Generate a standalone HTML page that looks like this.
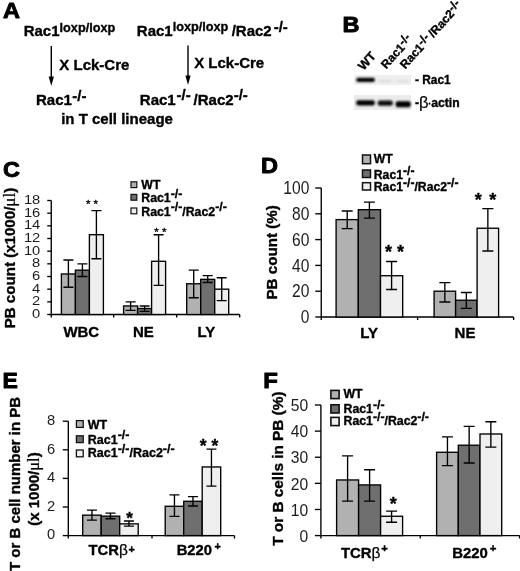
<!DOCTYPE html>
<html><head><meta charset="utf-8"><title>Figure</title>
<style>html,body{margin:0;padding:0;background:#fff}svg{display:block;will-change:transform;transform:translateZ(0)}</style></head><body>
<svg width="520" height="571" viewBox="0 0 520 571" font-family="Liberation Sans, sans-serif">
<defs><filter id="bl" x="-20%" y="-100%" width="140%" height="300%"><feGaussianBlur stdDeviation="1.1 0.9"/></filter></defs>
<rect width="520" height="571" fill="#fff"/>
<text transform="translate(3.0,18.3) scale(1.06,1)" font-size="22.2" font-weight="bold" text-anchor="start" fill="#000" stroke="#000" stroke-width="0.9" stroke-linejoin="round" >A</text>
<text transform="translate(342.6,32.4) scale(1.06,1)" font-size="22.2" font-weight="bold" text-anchor="start" fill="#000" stroke="#000" stroke-width="0.9" stroke-linejoin="round" >B</text>
<text transform="translate(2.9,176.8) scale(1.06,1)" font-size="22.2" font-weight="bold" text-anchor="start" fill="#000" stroke="#000" stroke-width="0.9" stroke-linejoin="round" >C</text>
<text transform="translate(260.9,173) scale(1.06,1)" font-size="22.2" font-weight="bold" text-anchor="start" fill="#000" stroke="#000" stroke-width="0.9" stroke-linejoin="round" >D</text>
<text transform="translate(2.5,387.8) scale(1.04,1)" font-size="22.2" font-weight="bold" text-anchor="start" fill="#000" stroke="#000" stroke-width="0.9" stroke-linejoin="round" >E</text>
<text transform="translate(263.3,387.8) scale(1.08,1)" font-size="22.2" font-weight="bold" text-anchor="start" fill="#000" stroke="#000" stroke-width="0.9" stroke-linejoin="round" >F</text>
<text x="23.7" y="35.5" font-size="15" font-weight="bold" text-anchor="start" fill="#000" stroke="#000" stroke-width="0.35" stroke-linejoin="round" ><tspan dy="0" font-size="15">Rac1</tspan><tspan dy="-3.6" font-size="12.7">loxp/loxp</tspan></text>
<text x="136.8" y="35.5" font-size="15" font-weight="bold" text-anchor="start" fill="#000" stroke="#000" stroke-width="0.35" stroke-linejoin="round" ><tspan dy="0" font-size="15">Rac1</tspan><tspan dy="-4.4" font-size="12.7">loxp/loxp</tspan></text>
<text x="231.7" y="35.5" font-size="15" font-weight="bold" text-anchor="start" fill="#000" stroke="#000" stroke-width="0.35" stroke-linejoin="round" >/Rac2</text>
<text x="273.7" y="32.2" font-size="15" font-weight="bold" text-anchor="start" fill="#000" stroke="#000" stroke-width="0.35" stroke-linejoin="round" >-/-</text>
<path d="M51.3 46V81" stroke="#000" stroke-width="1.4"/>
<path d="M48.699999999999996 76.5L51.3 86L53.9 76.5Z" fill="#000"/>
<path d="M188 45.5V80" stroke="#000" stroke-width="1.4"/>
<path d="M185.4 75.5L188 85L190.6 75.5Z" fill="#000"/>
<text x="59.3" y="69.6" font-size="15" font-weight="bold" text-anchor="start" fill="#000" stroke="#000" stroke-width="0.35" stroke-linejoin="round" >X Lck-Cre</text>
<text x="194.2" y="68.2" font-size="15" font-weight="bold" text-anchor="start" fill="#000" stroke="#000" stroke-width="0.35" stroke-linejoin="round" >X Lck-Cre</text>
<text x="36" y="104.5" font-size="15" font-weight="bold" text-anchor="start" fill="#000" stroke="#000" stroke-width="0.35" stroke-linejoin="round" >Rac1</text>
<text x="72.3" y="100.7" font-size="15" font-weight="bold" text-anchor="start" fill="#000" stroke="#000" stroke-width="0.35" stroke-linejoin="round" >-/-</text>
<text x="139.8" y="104.5" font-size="15" font-weight="bold" text-anchor="start" fill="#000" stroke="#000" stroke-width="0.35" stroke-linejoin="round" >Rac1</text>
<text x="176.5" y="99.8" font-size="15" font-weight="bold" text-anchor="start" fill="#000" stroke="#000" stroke-width="0.35" stroke-linejoin="round" >-/-</text>
<text x="193.6" y="104.5" font-size="15" font-weight="bold" text-anchor="start" fill="#000" stroke="#000" stroke-width="0.35" stroke-linejoin="round" >/Rac2</text>
<text x="233.7" y="99.8" font-size="15" font-weight="bold" text-anchor="start" fill="#000" stroke="#000" stroke-width="0.35" stroke-linejoin="round" >-/-</text>
<text x="61.2" y="123.5" font-size="15" font-weight="bold" text-anchor="start" fill="#000" stroke="#000" stroke-width="0.35" stroke-linejoin="round" >in T cell lineage</text>
<g transform="translate(363.5,71) rotate(-48)">
<text x="0" y="0" font-size="12.5" font-weight="bold" text-anchor="start" fill="#000" stroke="#000" stroke-width="0.35" stroke-linejoin="round" >WT</text>
</g>
<g transform="translate(386.3,69.5) rotate(-48)">
<text x="0" y="0" font-size="12" font-weight="bold" text-anchor="start" fill="#000" stroke="#000" stroke-width="0.35" stroke-linejoin="round" ><tspan dy="0" font-size="12">Rac1</tspan><tspan dy="-3" font-size="12">-/-</tspan></text>
</g>
<g transform="translate(405.3,69.5) rotate(-48)">
<text x="0" y="0" font-size="12" font-weight="bold" text-anchor="start" fill="#000" stroke="#000" stroke-width="0.35" stroke-linejoin="round" ><tspan dy="0" font-size="12">Rac1</tspan><tspan dy="-3" font-size="12">-/-</tspan><tspan dy="3" font-size="12"><tspan dx="2.3">/Rac2</tspan></tspan><tspan dy="-3" font-size="12">-/-</tspan></text>
</g>
<rect x="354" y="75" width="57" height="10" fill="#efefef"/>
<rect x="354" y="95" width="57" height="15" fill="#ebebeb"/>
<g filter="url(#bl)">
<rect x="356.3" y="77.8" width="18.5" height="4.2" rx="1.8" fill="#000"/>
<rect x="379" y="80.5" width="12" height="1.5" fill="#d2d2d2"/>
<rect x="397" y="80.5" width="12" height="1.5" fill="#d4d4d4"/>
<rect x="356.3" y="100.2" width="18.5" height="5.4" rx="2" fill="#000"/>
<rect x="377.7" y="100.6" width="15" height="5.2" rx="2" fill="#0a0a0a"/>
<rect x="395.7" y="101.2" width="15" height="6" rx="2" fill="#000"/>
</g>
<text x="415" y="83.8" font-size="11.9" font-weight="bold" text-anchor="start" fill="#000" stroke="#000" stroke-width="0.35" stroke-linejoin="round" >- Rac1</text>
<text x="415" y="106.5" font-size="12.2" font-weight="bold" text-anchor="start" fill="#000" stroke="#000" stroke-width="0.35" stroke-linejoin="round" >-<tspan font-weight="normal" font-size="16.5" dy="1.6" stroke-width="0.2">β</tspan><tspan dy="-1.6" font-size="9" dx="-0.3">·</tspan><tspan>actin</tspan></text>
<path d="M51.25 200.5V314.5H239.7" stroke="#000" stroke-width="1.35" fill="none"/>
<path d="M47.25 314.5H51.25" stroke="#000" stroke-width="1.35"/>
<text transform="translate(40.3,318.0) scale(1.1,1)" font-size="13.4" font-weight="normal" text-anchor="end" fill="#1c1c1c"  >0</text>
<path d="M47.25 301.83H51.25" stroke="#000" stroke-width="1.35"/>
<text transform="translate(40.3,305.33) scale(1.1,1)" font-size="13.4" font-weight="normal" text-anchor="end" fill="#1c1c1c"  >2</text>
<path d="M47.25 289.17H51.25" stroke="#000" stroke-width="1.35"/>
<text transform="translate(40.3,292.66) scale(1.1,1)" font-size="13.4" font-weight="normal" text-anchor="end" fill="#1c1c1c"  >4</text>
<path d="M47.25 276.5H51.25" stroke="#000" stroke-width="1.35"/>
<text transform="translate(40.3,280.0) scale(1.1,1)" font-size="13.4" font-weight="normal" text-anchor="end" fill="#1c1c1c"  >6</text>
<path d="M47.25 263.83H51.25" stroke="#000" stroke-width="1.35"/>
<text transform="translate(40.3,267.33) scale(1.1,1)" font-size="13.4" font-weight="normal" text-anchor="end" fill="#1c1c1c"  >8</text>
<path d="M47.25 251.17H51.25" stroke="#000" stroke-width="1.35"/>
<text transform="translate(40.3,254.66) scale(1.1,1)" font-size="13.4" font-weight="normal" text-anchor="end" fill="#1c1c1c"  >10</text>
<path d="M47.25 238.5H51.25" stroke="#000" stroke-width="1.35"/>
<text transform="translate(40.3,242.0) scale(1.1,1)" font-size="13.4" font-weight="normal" text-anchor="end" fill="#1c1c1c"  >12</text>
<path d="M47.25 225.83H51.25" stroke="#000" stroke-width="1.35"/>
<text transform="translate(40.3,229.33) scale(1.1,1)" font-size="13.4" font-weight="normal" text-anchor="end" fill="#1c1c1c"  >14</text>
<path d="M47.25 213.17H51.25" stroke="#000" stroke-width="1.35"/>
<text transform="translate(40.3,216.66) scale(1.1,1)" font-size="13.4" font-weight="normal" text-anchor="end" fill="#1c1c1c"  >16</text>
<path d="M47.25 200.5H51.25" stroke="#000" stroke-width="1.35"/>
<text transform="translate(40.3,204.0) scale(1.1,1)" font-size="13.4" font-weight="normal" text-anchor="end" fill="#1c1c1c"  >18</text>
<path d="M51.25 314.5V317.5" stroke="#000" stroke-width="1.35"/>
<path d="M113.7 314.5V317.5" stroke="#000" stroke-width="1.35"/>
<path d="M176.7 314.5V317.5" stroke="#000" stroke-width="1.35"/>
<path d="M239.7 314.5V317.5" stroke="#000" stroke-width="1.35"/>
<g transform="translate(15.2,328.3) rotate(-90)">
<text x="0" y="0" font-size="15.1" font-weight="bold" text-anchor="start" fill="#000" stroke="#000" stroke-width="0.35" stroke-linejoin="round" >PB count (x1000/<tspan font-family="Liberation Serif, serif" font-weight="normal" stroke-width="0.2" font-size="17">μl</tspan>)</text>
</g>
<rect x="61.4" y="273.97" width="14" height="40.53" fill="#b1b1b1" stroke="#000" stroke-width="1.35"/>
<rect x="75.4" y="270.17" width="14" height="44.33" fill="#6f6f6f" stroke="#000" stroke-width="1.35"/>
<rect x="89.4" y="234.7" width="14" height="79.8" fill="#efefef" stroke="#000" stroke-width="1.35"/>
<path d="M68.4 260.03V287.27M63.400000000000006 260.03H73.4M63.400000000000006 287.27H73.4" stroke="#000" stroke-width="1.35" fill="none"/>
<path d="M82.4 263.83V276.5M77.4 263.83H87.4M77.4 276.5H87.4" stroke="#000" stroke-width="1.35" fill="none"/>
<path d="M96.4 210.63V258.77M91.4 210.63H101.4M91.4 258.77H101.4" stroke="#000" stroke-width="1.35" fill="none"/>
<rect x="123.6" y="305.95" width="14" height="8.55" fill="#b1b1b1" stroke="#000" stroke-width="1.35"/>
<rect x="137.6" y="308.48" width="14" height="6.02" fill="#6f6f6f" stroke="#000" stroke-width="1.35"/>
<rect x="151.6" y="261.3" width="14" height="53.2" fill="#efefef" stroke="#000" stroke-width="1.35"/>
<path d="M130.6 301.83V310.38M125.6 301.83H135.6M125.6 310.38H135.6" stroke="#000" stroke-width="1.35" fill="none"/>
<path d="M144.6 305.95V311.33M139.6 305.95H149.6M139.6 311.33H149.6" stroke="#000" stroke-width="1.35" fill="none"/>
<path d="M158.6 234.7V285.37M153.6 234.7H163.6M153.6 285.37H163.6" stroke="#000" stroke-width="1.35" fill="none"/>
<rect x="186.7" y="283.78" width="14" height="30.72" fill="#b1b1b1" stroke="#000" stroke-width="1.35"/>
<rect x="200.7" y="279.35" width="14" height="35.15" fill="#6f6f6f" stroke="#000" stroke-width="1.35"/>
<rect x="214.7" y="289.17" width="14" height="25.33" fill="#efefef" stroke="#000" stroke-width="1.35"/>
<path d="M193.7 270.17V297.72M188.7 270.17H198.7M188.7 297.72H198.7" stroke="#000" stroke-width="1.35" fill="none"/>
<path d="M207.7 275.55V282.52M202.7 275.55H212.7M202.7 282.52H212.7" stroke="#000" stroke-width="1.35" fill="none"/>
<path d="M221.7 277.77V300.57M216.7 277.77H226.7M216.7 300.57H226.7" stroke="#000" stroke-width="1.35" fill="none"/>
<text x="92" y="207.5" font-size="11.5" font-weight="normal" text-anchor="middle" fill="#000" stroke="#000" stroke-width="0.35" stroke-linejoin="round" letter-spacing="0">* *</text>
<text x="160.3" y="235.5" font-size="11.5" font-weight="normal" text-anchor="middle" fill="#000" stroke="#000" stroke-width="0.35" stroke-linejoin="round" letter-spacing="0">* *</text>
<text x="81.3" y="336.5" font-size="15" font-weight="bold" text-anchor="middle" fill="#000" stroke="#000" stroke-width="0.35" stroke-linejoin="round" >WBC</text>
<text x="143.3" y="336.6" font-size="15" font-weight="bold" text-anchor="middle" fill="#000" stroke="#000" stroke-width="0.35" stroke-linejoin="round" >NE</text>
<text x="206.3" y="336.6" font-size="15" font-weight="bold" text-anchor="middle" fill="#000" stroke="#000" stroke-width="0.35" stroke-linejoin="round" >LY</text>
<rect x="131" y="181.8" width="5.8" height="5.8" fill="#b1b1b1" stroke="#111" stroke-width="1.2"/>
<text x="141.3" y="188.7" font-size="12.3" font-weight="bold" text-anchor="start" fill="#000" stroke="#000" stroke-width="0.35" stroke-linejoin="round" ><tspan dy="0" font-size="12.3">WT</tspan></text>
<rect x="131" y="194.4" width="5.8" height="5.8" fill="#6f6f6f" stroke="#111" stroke-width="1.2"/>
<text x="141.3" y="201.7" font-size="12.3" font-weight="bold" text-anchor="start" fill="#000" stroke="#000" stroke-width="0.35" stroke-linejoin="round" ><tspan dy="0" font-size="12.3">Rac1</tspan><tspan dy="-4.1" font-size="12.3">-/-</tspan></text>
<rect x="131" y="208" width="5.8" height="5.8" fill="#efefef" stroke="#111" stroke-width="1.2"/>
<text x="141.3" y="215.5" font-size="12.3" font-weight="bold" text-anchor="start" fill="#000" stroke="#000" stroke-width="0.35" stroke-linejoin="round" ><tspan dy="0" font-size="12.3">Rac1</tspan><tspan dy="-4.1" font-size="12.3">-/-</tspan><tspan dy="4.1" font-size="12.3">/Rac2</tspan><tspan dy="-4.1" font-size="12.3">-/-</tspan></text>
<path d="M321.25 188V317.0H513.6" stroke="#000" stroke-width="1.35" fill="none"/>
<path d="M315.25 317.0H321.25" stroke="#000" stroke-width="1.35"/>
<text transform="translate(309.3,323.26) scale(0.89,1)" font-size="17.5" font-weight="normal" text-anchor="end" fill="#1c1c1c"  >0</text>
<path d="M315.25 291.2H321.25" stroke="#000" stroke-width="1.35"/>
<text transform="translate(309.3,297.46) scale(0.89,1)" font-size="17.5" font-weight="normal" text-anchor="end" fill="#1c1c1c"  >20</text>
<path d="M315.25 265.4H321.25" stroke="#000" stroke-width="1.35"/>
<text transform="translate(309.3,271.66) scale(0.89,1)" font-size="17.5" font-weight="normal" text-anchor="end" fill="#1c1c1c"  >40</text>
<path d="M315.25 239.6H321.25" stroke="#000" stroke-width="1.35"/>
<text transform="translate(309.3,245.86) scale(0.89,1)" font-size="17.5" font-weight="normal" text-anchor="end" fill="#1c1c1c"  >60</text>
<path d="M315.25 213.8H321.25" stroke="#000" stroke-width="1.35"/>
<text transform="translate(309.3,220.06) scale(0.89,1)" font-size="17.5" font-weight="normal" text-anchor="end" fill="#1c1c1c"  >80</text>
<path d="M315.25 188.0H321.25" stroke="#000" stroke-width="1.35"/>
<text transform="translate(309.3,194.26) scale(0.89,1)" font-size="17.5" font-weight="normal" text-anchor="end" fill="#1c1c1c"  >100</text>
<path d="M321.25 317.0V320.0" stroke="#000" stroke-width="1.35"/>
<path d="M417.6 317.0V320.0" stroke="#000" stroke-width="1.35"/>
<path d="M513.6 317.0V320.0" stroke="#000" stroke-width="1.35"/>
<g transform="translate(276.7,299.6) rotate(-90)">
<text x="0" y="0" font-size="15.2" font-weight="bold" text-anchor="start" fill="#000" stroke="#000" stroke-width="0.35" stroke-linejoin="round" >PB count (%)</text>
</g>
<rect x="336.1" y="219.61" width="22.2" height="97.39" fill="#b1b1b1" stroke="#000" stroke-width="1.35"/>
<rect x="358.3" y="209.67" width="22.2" height="107.33" fill="#6f6f6f" stroke="#000" stroke-width="1.35"/>
<rect x="380.5" y="275.72" width="22.2" height="41.28" fill="#efefef" stroke="#000" stroke-width="1.35"/>
<path d="M347.2 210.96V228.63M341.7 210.96H352.7M341.7 228.63H352.7" stroke="#000" stroke-width="1.35" fill="none"/>
<path d="M369.4 202.19V218.19M363.9 202.19H374.9M363.9 218.19H374.9" stroke="#000" stroke-width="1.35" fill="none"/>
<path d="M391.6 261.53V289.52M386.1 261.53H397.1M386.1 289.52H397.1" stroke="#000" stroke-width="1.35" fill="none"/>
<rect x="434.1" y="291.2" width="21.5" height="25.8" fill="#b1b1b1" stroke="#000" stroke-width="1.35"/>
<rect x="455.6" y="300.23" width="21.5" height="16.77" fill="#6f6f6f" stroke="#000" stroke-width="1.35"/>
<rect x="477.1" y="228.25" width="21.5" height="88.75" fill="#efefef" stroke="#000" stroke-width="1.35"/>
<path d="M444.85 282.56V302.04M439.35 282.56H450.35M439.35 302.04H450.35" stroke="#000" stroke-width="1.35" fill="none"/>
<path d="M466.35 292.49V308.36M460.85 292.49H471.85M460.85 308.36H471.85" stroke="#000" stroke-width="1.35" fill="none"/>
<path d="M487.85 208.64V250.95M482.35 208.64H493.35M482.35 250.95H493.35" stroke="#000" stroke-width="1.35" fill="none"/>
<text x="394.5" y="257.5" font-size="18" font-weight="bold" text-anchor="middle" fill="#000" stroke="#000" stroke-width="0.35" stroke-linejoin="round" >* *</text>
<text x="478.2" y="206" font-size="18" font-weight="bold" text-anchor="middle" fill="#000" stroke="#000" stroke-width="0.35" stroke-linejoin="round" >*</text>
<text x="492.8" y="206" font-size="18" font-weight="bold" text-anchor="middle" fill="#000" stroke="#000" stroke-width="0.35" stroke-linejoin="round" >*</text>
<text x="369.2" y="338" font-size="15" font-weight="bold" text-anchor="middle" fill="#000" stroke="#000" stroke-width="0.35" stroke-linejoin="round" >LY</text>
<text x="465" y="338" font-size="15" font-weight="bold" text-anchor="middle" fill="#000" stroke="#000" stroke-width="0.35" stroke-linejoin="round" >NE</text>
<rect x="362.5" y="155" width="8" height="8.7" fill="#b1b1b1" stroke="#111" stroke-width="1.5"/>
<text x="373.8" y="163.1" font-size="12.2" font-weight="bold" text-anchor="start" fill="#000" stroke="#000" stroke-width="0.35" stroke-linejoin="round" ><tspan dy="0" font-size="12.2">WT</tspan></text>
<rect x="362.5" y="170" width="8" height="7.5" fill="#6f6f6f" stroke="#111" stroke-width="1.5"/>
<text x="373.8" y="178.9" font-size="12.2" font-weight="bold" text-anchor="start" fill="#000" stroke="#000" stroke-width="0.35" stroke-linejoin="round" ><tspan dy="0" font-size="12.2">Rac1</tspan><tspan dy="-4.1" font-size="12.2">-/-</tspan></text>
<rect x="362.5" y="182.7" width="8" height="7.3" fill="#efefef" stroke="#111" stroke-width="1.5"/>
<text x="373.8" y="191" font-size="12.2" font-weight="bold" text-anchor="start" fill="#000" stroke="#000" stroke-width="0.35" stroke-linejoin="round" ><tspan dy="0" font-size="12.2">Rac1</tspan><tspan dy="-4.1" font-size="12.2">-/-</tspan><tspan dy="4.1" font-size="12.2">/Rac2</tspan><tspan dy="-4.1" font-size="12.2">-/-</tspan></text>
<path d="M68.3 421.2V535.6H234.5" stroke="#000" stroke-width="1.35" fill="none"/>
<path d="M62.8 535.6H68.3" stroke="#000" stroke-width="1.35"/>
<text transform="translate(55.2,539.37) scale(0.98,1)" font-size="15" font-weight="normal" text-anchor="end" fill="#1c1c1c"  >0</text>
<path d="M62.8 507.0H68.3" stroke="#000" stroke-width="1.35"/>
<text transform="translate(55.2,510.77) scale(0.98,1)" font-size="15" font-weight="normal" text-anchor="end" fill="#1c1c1c"  >2</text>
<path d="M62.8 478.4H68.3" stroke="#000" stroke-width="1.35"/>
<text transform="translate(55.2,482.17) scale(0.98,1)" font-size="15" font-weight="normal" text-anchor="end" fill="#1c1c1c"  >4</text>
<path d="M62.8 449.8H68.3" stroke="#000" stroke-width="1.35"/>
<text transform="translate(55.2,453.57) scale(0.98,1)" font-size="15" font-weight="normal" text-anchor="end" fill="#1c1c1c"  >6</text>
<path d="M62.8 421.2H68.3" stroke="#000" stroke-width="1.35"/>
<text transform="translate(55.2,424.97) scale(0.98,1)" font-size="15" font-weight="normal" text-anchor="end" fill="#1c1c1c"  >8</text>
<path d="M68.3 535.6V538.6" stroke="#000" stroke-width="1.35"/>
<path d="M152 535.6V538.6" stroke="#000" stroke-width="1.35"/>
<path d="M234.5 535.6V538.6" stroke="#000" stroke-width="1.35"/>
<g transform="translate(19.7,571) rotate(-90)">
<text x="0" y="0" font-size="15" font-weight="bold" text-anchor="start" fill="#000" stroke="#000" stroke-width="0.35" stroke-linejoin="round" >T or B cell number in PB</text>
</g>
<g transform="translate(38.7,525.8) rotate(-90)">
<text x="0" y="0" font-size="15" font-weight="bold" text-anchor="start" fill="#000" stroke="#000" stroke-width="0.35" stroke-linejoin="round" >(x 1000/<tspan font-family="Liberation Serif, serif" font-weight="normal" stroke-width="0.2" font-size="16.5">μl</tspan>)</text>
</g>
<rect x="82.7" y="515.15" width="18.5" height="20.45" fill="#b1b1b1" stroke="#000" stroke-width="1.35"/>
<rect x="101.2" y="516.15" width="18.5" height="19.45" fill="#6f6f6f" stroke="#000" stroke-width="1.35"/>
<rect x="119.7" y="523.87" width="18.5" height="11.73" fill="#efefef" stroke="#000" stroke-width="1.35"/>
<path d="M91.95 510.15V520.16M86.95 510.15H96.95M86.95 520.16H96.95" stroke="#000" stroke-width="1.35" fill="none"/>
<path d="M110.45 513.15V518.73M105.45 513.15H115.45M105.45 518.73H115.45" stroke="#000" stroke-width="1.35" fill="none"/>
<path d="M128.95 521.01V526.16M123.94999999999999 521.01H133.95M123.94999999999999 526.16H133.95" stroke="#000" stroke-width="1.35" fill="none"/>
<rect x="165.2" y="506.29" width="18.5" height="29.31" fill="#b1b1b1" stroke="#000" stroke-width="1.35"/>
<rect x="183.7" y="501.28" width="18.5" height="34.32" fill="#6f6f6f" stroke="#000" stroke-width="1.35"/>
<rect x="202.2" y="466.96" width="18.5" height="68.64" fill="#efefef" stroke="#000" stroke-width="1.35"/>
<path d="M174.45 494.85V516.44M169.45 494.85H179.45M169.45 516.44H179.45" stroke="#000" stroke-width="1.35" fill="none"/>
<path d="M192.95 496.56V506.0M187.95 496.56H197.95M187.95 506.0H197.95" stroke="#000" stroke-width="1.35" fill="none"/>
<path d="M211.45 449.08V486.12M206.45 449.08H216.45M206.45 486.12H216.45" stroke="#000" stroke-width="1.35" fill="none"/>
<text x="129.5" y="524.3" font-size="17" font-weight="bold" text-anchor="middle" fill="#000" stroke="#000" stroke-width="0.35" stroke-linejoin="round" >*</text>
<text x="209" y="451.5" font-size="17.5" font-weight="bold" text-anchor="middle" fill="#000" stroke="#000" stroke-width="0.35" stroke-linejoin="round" >* *</text>
<text x="88.5" y="555.4" font-size="14.8" font-weight="bold" text-anchor="start" fill="#000" stroke="#000" stroke-width="0.35" stroke-linejoin="round" >TCR<tspan font-weight="normal" font-size="15.5" stroke-width="0.25">β</tspan><tspan dy="-2.6" dx="0.6" font-size="10.8">+</tspan></text>
<text x="176.7" y="555.3" font-size="14.8" font-weight="bold" text-anchor="start" fill="#000" stroke="#000" stroke-width="0.35" stroke-linejoin="round" >B220<tspan dy="-5.4" dx="2.4" font-size="10.8">+</tspan></text>
<rect x="76.4" y="420.6" width="6.8" height="6.8" fill="#b1b1b1" stroke="#111" stroke-width="1.3"/>
<text x="87.8" y="428.7" font-size="12.5" font-weight="bold" text-anchor="start" fill="#000" stroke="#000" stroke-width="0.35" stroke-linejoin="round" ><tspan dy="0" font-size="12.5">WT</tspan></text>
<rect x="76.4" y="435.8" width="6.8" height="6.8" fill="#6f6f6f" stroke="#111" stroke-width="1.3"/>
<text x="87.8" y="443.5" font-size="12.5" font-weight="bold" text-anchor="start" fill="#000" stroke="#000" stroke-width="0.35" stroke-linejoin="round" ><tspan dy="0" font-size="12.5">Rac1</tspan><tspan dy="-4.1" font-size="12.5">-/-</tspan></text>
<rect x="76.4" y="450" width="6.8" height="6.8" fill="#efefef" stroke="#111" stroke-width="1.3"/>
<text x="87.8" y="456.6" font-size="12.5" font-weight="bold" text-anchor="start" fill="#000" stroke="#000" stroke-width="0.35" stroke-linejoin="round" ><tspan dy="0" font-size="12.5">Rac1</tspan><tspan dy="-4.1" font-size="12.5">-/-</tspan><tspan dy="4.1" font-size="12.5">/Rac2</tspan><tspan dy="-4.1" font-size="12.5">-/-</tspan></text>
<path d="M320.9 405V535.6H519.6" stroke="#000" stroke-width="1.35" fill="none"/>
<path d="M314.9 535.6H320.9" stroke="#000" stroke-width="1.35"/>
<text transform="translate(308.2,541.83) scale(0.9,1)" font-size="17.4" font-weight="normal" text-anchor="end" fill="#1c1c1c"  >0</text>
<path d="M314.9 509.48H320.9" stroke="#000" stroke-width="1.35"/>
<text transform="translate(308.2,515.71) scale(0.9,1)" font-size="17.4" font-weight="normal" text-anchor="end" fill="#1c1c1c"  >10</text>
<path d="M314.9 483.36H320.9" stroke="#000" stroke-width="1.35"/>
<text transform="translate(308.2,489.59) scale(0.9,1)" font-size="17.4" font-weight="normal" text-anchor="end" fill="#1c1c1c"  >20</text>
<path d="M314.9 457.24H320.9" stroke="#000" stroke-width="1.35"/>
<text transform="translate(308.2,463.47) scale(0.9,1)" font-size="17.4" font-weight="normal" text-anchor="end" fill="#1c1c1c"  >30</text>
<path d="M314.9 431.12H320.9" stroke="#000" stroke-width="1.35"/>
<text transform="translate(308.2,437.35) scale(0.9,1)" font-size="17.4" font-weight="normal" text-anchor="end" fill="#1c1c1c"  >40</text>
<path d="M314.9 405.0H320.9" stroke="#000" stroke-width="1.35"/>
<text transform="translate(308.2,411.23) scale(0.9,1)" font-size="17.4" font-weight="normal" text-anchor="end" fill="#1c1c1c"  >50</text>
<path d="M320.9 535.6V538.6" stroke="#000" stroke-width="1.35"/>
<path d="M420.3 535.6V538.6" stroke="#000" stroke-width="1.35"/>
<path d="M519.6 535.6V538.6" stroke="#000" stroke-width="1.35"/>
<g transform="translate(283,545.8) rotate(-90)">
<text x="0" y="0" font-size="15.35" font-weight="bold" text-anchor="start" fill="#000" stroke="#000" stroke-width="0.35" stroke-linejoin="round" >T or B cells in PB (%)</text>
</g>
<rect x="336.6" y="479.96" width="22" height="55.64" fill="#b1b1b1" stroke="#000" stroke-width="1.35"/>
<rect x="358.6" y="484.93" width="22" height="50.67" fill="#6f6f6f" stroke="#000" stroke-width="1.35"/>
<rect x="380.6" y="516.27" width="22" height="19.33" fill="#efefef" stroke="#000" stroke-width="1.35"/>
<path d="M347.6 455.93V501.12M342.1 455.93H353.1M342.1 501.12H353.1" stroke="#000" stroke-width="1.35" fill="none"/>
<path d="M369.6 469.78V501.12M364.1 469.78H375.1M364.1 501.12H375.1" stroke="#000" stroke-width="1.35" fill="none"/>
<path d="M391.6 511.05V522.28M386.1 511.05H397.1M386.1 522.28H397.1" stroke="#000" stroke-width="1.35" fill="none"/>
<rect x="436.6" y="452.28" width="21.7" height="83.32" fill="#b1b1b1" stroke="#000" stroke-width="1.35"/>
<rect x="458.3" y="445.22" width="21.7" height="90.38" fill="#6f6f6f" stroke="#000" stroke-width="1.35"/>
<rect x="480.0" y="433.99" width="21.7" height="101.61" fill="#efefef" stroke="#000" stroke-width="1.35"/>
<path d="M447.45 436.87V465.6M441.95 436.87H452.95M441.95 465.6H452.95" stroke="#000" stroke-width="1.35" fill="none"/>
<path d="M469.15 426.42V462.99M463.65 426.42H474.65M463.65 462.99H474.65" stroke="#000" stroke-width="1.35" fill="none"/>
<path d="M490.85 421.72V447.05M485.35 421.72H496.35M485.35 447.05H496.35" stroke="#000" stroke-width="1.35" fill="none"/>
<text x="393.3" y="509.5" font-size="18" font-weight="bold" text-anchor="middle" fill="#000" stroke="#000" stroke-width="0.35" stroke-linejoin="round" >*</text>
<text x="341" y="557.7" font-size="14.9" font-weight="bold" text-anchor="start" fill="#000" stroke="#000" stroke-width="0.35" stroke-linejoin="round" >TCR<tspan font-weight="normal" font-size="15.5" stroke-width="0.25">β</tspan><tspan dy="-5.6" dx="0.8" font-size="11.3">+</tspan></text>
<text x="452.3" y="557.7" font-size="14.9" font-weight="bold" text-anchor="start" fill="#000" stroke="#000" stroke-width="0.35" stroke-linejoin="round" >B220<tspan dy="-6.2" dx="1.8" font-size="11.5">+</tspan></text>
<rect x="330.9" y="390.4" width="8.2" height="8.2" fill="#b1b1b1" stroke="#111" stroke-width="1.6"/>
<text x="343.5" y="397.8" font-size="12.3" font-weight="bold" text-anchor="start" fill="#000" stroke="#000" stroke-width="0.35" stroke-linejoin="round" ><tspan dy="0" font-size="12.3">WT</tspan></text>
<rect x="330.9" y="404.8" width="8.2" height="8.2" fill="#6f6f6f" stroke="#111" stroke-width="1.6"/>
<text x="343.5" y="412.7" font-size="12.3" font-weight="bold" text-anchor="start" fill="#000" stroke="#000" stroke-width="0.35" stroke-linejoin="round" ><tspan dy="0" font-size="12.3">Rac1</tspan><tspan dy="-4.1" font-size="12.3">-/-</tspan></text>
<rect x="330.9" y="417.4" width="8.2" height="8.2" fill="#efefef" stroke="#111" stroke-width="1.6"/>
<text x="343.5" y="425.2" font-size="12.3" font-weight="bold" text-anchor="start" fill="#000" stroke="#000" stroke-width="0.35" stroke-linejoin="round" ><tspan dy="0" font-size="12.3">Rac1</tspan><tspan dy="-4.1" font-size="12.3">-/-</tspan><tspan dy="4.1" font-size="12.3">/Rac2</tspan><tspan dy="-4.1" font-size="12.3">-/-</tspan></text>
</svg></body></html>
